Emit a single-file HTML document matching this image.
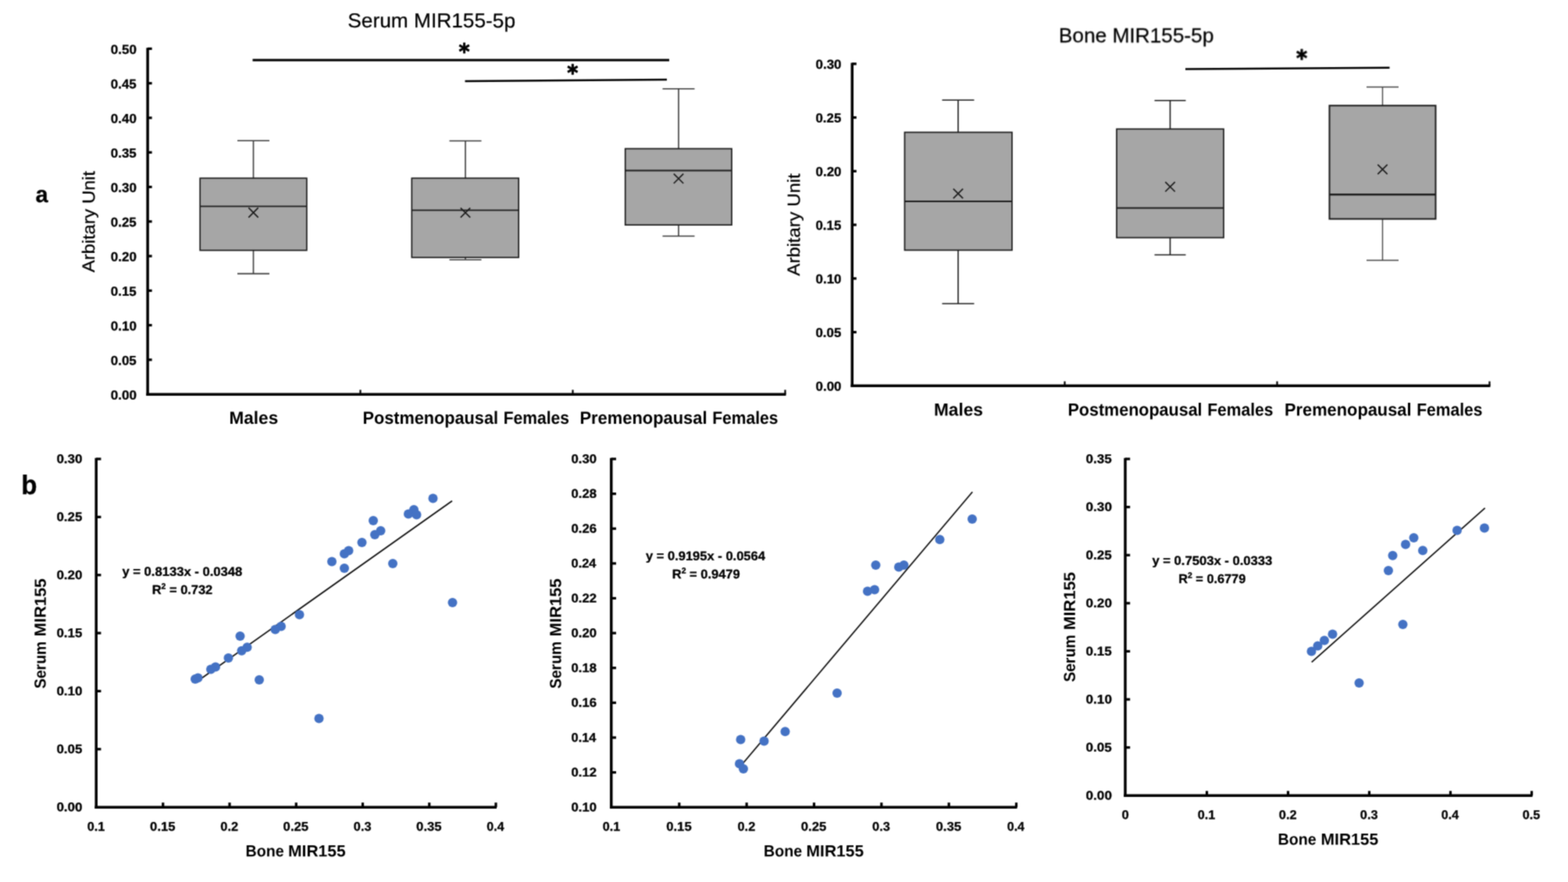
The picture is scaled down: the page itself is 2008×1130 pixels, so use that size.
<!DOCTYPE html>
<html lang="en">
<head>
<meta charset="utf-8">
<title>Serum and Bone MIR155-5p</title>
<style>
html,body{margin:0;padding:0;background:#fff;}
body{width:2008px;height:1130px;overflow:hidden;}
svg{display:block;}
svg text{font-family:"Liberation Sans",sans-serif;font-kerning:none;white-space:pre;}
</style>
</head>
<body>
<svg width="2008" height="1130" viewBox="0 0 2008 1130">
<defs><filter id="soft" x="0" y="0" width="2008" height="1130" filterUnits="userSpaceOnUse" color-interpolation-filters="sRGB"><feConvolveMatrix order="3" kernelMatrix="0.0400 0.1200 0.0400 0.1200 0.3600 0.1200 0.0400 0.1200 0.0400" divisor="1" bias="0" edgeMode="duplicate" preserveAlpha="false"/></filter></defs>
<rect width="2008" height="1130" fill="#fff"/>
<g filter="url(#soft)">
<g id="chart-serum-box">
<line x1="189.1" y1="61.2" x2="189.1" y2="506.95" stroke="#000" stroke-width="3.5"/>
<line x1="187.35" y1="505.2" x2="1006.5" y2="505.2" stroke="#000" stroke-width="3.5"/>
<line x1="189.1" y1="62.4" x2="194.6" y2="62.4" stroke="#000" stroke-width="3.2"/>
<line x1="189.1" y1="106.68" x2="194.6" y2="106.68" stroke="#000" stroke-width="3.2"/>
<line x1="189.1" y1="150.96" x2="194.6" y2="150.96" stroke="#000" stroke-width="3.2"/>
<line x1="189.1" y1="195.24" x2="194.6" y2="195.24" stroke="#000" stroke-width="3.2"/>
<line x1="189.1" y1="239.52" x2="194.6" y2="239.52" stroke="#000" stroke-width="3.2"/>
<line x1="189.1" y1="283.8" x2="194.6" y2="283.8" stroke="#000" stroke-width="3.2"/>
<line x1="189.1" y1="328.08" x2="194.6" y2="328.08" stroke="#000" stroke-width="3.2"/>
<line x1="189.1" y1="372.36" x2="194.6" y2="372.36" stroke="#000" stroke-width="3.2"/>
<line x1="189.1" y1="416.64" x2="194.6" y2="416.64" stroke="#000" stroke-width="3.2"/>
<line x1="189.1" y1="460.92" x2="194.6" y2="460.92" stroke="#000" stroke-width="3.2"/>
<line x1="461.5" y1="505.2" x2="461.5" y2="499.45" stroke="#000" stroke-width="2.2"/>
<line x1="733.5" y1="505.2" x2="733.5" y2="499.45" stroke="#000" stroke-width="2.2"/>
<line x1="1005.5" y1="505.2" x2="1005.5" y2="499.45" stroke="#000" stroke-width="2.2"/>
<text transform="translate(141.78 68.9) rotate(0.04) scale(1.0268 1.0000)" font-size="16.6" font-weight="bold" fill="#000" stroke="#000" stroke-width="0.3" stroke-linejoin="round">0.50</text>
<text transform="translate(141.78 113.18) rotate(0.04) scale(1.0196 1.0000)" font-size="16.6" font-weight="bold" fill="#000" stroke="#000" stroke-width="0.3" stroke-linejoin="round">0.45</text>
<text transform="translate(141.78 157.46) rotate(0.04) scale(1.0268 1.0000)" font-size="16.6" font-weight="bold" fill="#000" stroke="#000" stroke-width="0.3" stroke-linejoin="round">0.40</text>
<text transform="translate(141.78 201.74) rotate(0.04) scale(1.0196 1.0000)" font-size="16.6" font-weight="bold" fill="#000" stroke="#000" stroke-width="0.3" stroke-linejoin="round">0.35</text>
<text transform="translate(141.78 246.02) rotate(0.04) scale(1.0268 1.0000)" font-size="16.6" font-weight="bold" fill="#000" stroke="#000" stroke-width="0.3" stroke-linejoin="round">0.30</text>
<text transform="translate(141.78 290.3) rotate(0.04) scale(1.0196 1.0000)" font-size="16.6" font-weight="bold" fill="#000" stroke="#000" stroke-width="0.3" stroke-linejoin="round">0.25</text>
<text transform="translate(141.78 334.58) rotate(0.04) scale(1.0268 1.0000)" font-size="16.6" font-weight="bold" fill="#000" stroke="#000" stroke-width="0.3" stroke-linejoin="round">0.20</text>
<text transform="translate(141.78 378.86) rotate(0.04) scale(1.0196 1.0000)" font-size="16.6" font-weight="bold" fill="#000" stroke="#000" stroke-width="0.3" stroke-linejoin="round">0.15</text>
<text transform="translate(141.78 423.14) rotate(0.04) scale(1.0268 1.0000)" font-size="16.6" font-weight="bold" fill="#000" stroke="#000" stroke-width="0.3" stroke-linejoin="round">0.10</text>
<text transform="translate(141.78 467.42) rotate(0.04) scale(1.0196 1.0000)" font-size="16.6" font-weight="bold" fill="#000" stroke="#000" stroke-width="0.3" stroke-linejoin="round">0.05</text>
<text transform="translate(141.78 511.7) rotate(0.04) scale(1.0268 1.0000)" font-size="16.6" font-weight="bold" fill="#000" stroke="#000" stroke-width="0.3" stroke-linejoin="round">0.00</text>
<text transform="translate(445.23 35) rotate(0.04) scale(1.0193 1.0000)" font-size="25.8" font-weight="normal" fill="#000" stroke="#000" stroke-width="0.25" stroke-linejoin="round">Serum MIR155-5p</text>
<text transform="translate(121.1 349.02) rotate(-89.96) scale(1.0547 1)" font-size="22.4" font-weight="normal" fill="#000" stroke="#000" stroke-width="0.25" stroke-linejoin="round">Arbitary Unit</text>
<line x1="324.5" y1="180.2" x2="324.5" y2="228.3" stroke="#3a3a3a" stroke-width="1.6"/>
<line x1="324.5" y1="320.7" x2="324.5" y2="350.6" stroke="#3a3a3a" stroke-width="1.6"/>
<line x1="304" y1="180.2" x2="345" y2="180.2" stroke="#3a3a3a" stroke-width="1.6"/>
<line x1="304" y1="350.6" x2="345" y2="350.6" stroke="#3a3a3a" stroke-width="1.6"/>
<rect x="256.2" y="228.3" width="136.6" height="92.4" fill="#a6a6a6" stroke="#1c1c1c" stroke-width="1.7"/>
<line x1="256.2" y1="264.3" x2="392.8" y2="264.3" stroke="#1c1c1c" stroke-width="1.8"/>
<path d="M318.3 266.2L330.7 278.6M318.3 278.6L330.7 266.2" stroke="#1c1c1c" stroke-width="1.7" fill="none"/>
<line x1="596" y1="180.5" x2="596" y2="228.3" stroke="#3a3a3a" stroke-width="1.6"/>
<line x1="596" y1="329.8" x2="596" y2="332.8" stroke="#3a3a3a" stroke-width="1.6"/>
<line x1="575.5" y1="180.5" x2="616.5" y2="180.5" stroke="#3a3a3a" stroke-width="1.6"/>
<line x1="575.5" y1="332.8" x2="616.5" y2="332.8" stroke="#3a3a3a" stroke-width="1.6"/>
<rect x="527.3" y="228.3" width="136.9" height="101.5" fill="#a6a6a6" stroke="#1c1c1c" stroke-width="1.7"/>
<line x1="527.3" y1="269.3" x2="664.2" y2="269.3" stroke="#1c1c1c" stroke-width="1.8"/>
<path d="M589.8 266.3L602.2 278.7M589.8 278.7L602.2 266.3" stroke="#1c1c1c" stroke-width="1.7" fill="none"/>
<line x1="869" y1="113.8" x2="869" y2="190.5" stroke="#3a3a3a" stroke-width="1.6"/>
<line x1="869" y1="288.2" x2="869" y2="302.5" stroke="#3a3a3a" stroke-width="1.6"/>
<line x1="848.5" y1="113.8" x2="889.5" y2="113.8" stroke="#3a3a3a" stroke-width="1.6"/>
<line x1="848.5" y1="302.5" x2="889.5" y2="302.5" stroke="#3a3a3a" stroke-width="1.6"/>
<rect x="800.7" y="190.5" width="136.3" height="97.7" fill="#a6a6a6" stroke="#1c1c1c" stroke-width="1.7"/>
<line x1="800.7" y1="218.5" x2="937" y2="218.5" stroke="#1c1c1c" stroke-width="1.8"/>
<path d="M862.8 222.6L875.2 235M862.8 235L875.2 222.6" stroke="#1c1c1c" stroke-width="1.7" fill="none"/>
<line x1="323.5" y1="77" x2="857" y2="77" stroke="#000" stroke-width="2.8"/>
<line x1="595.5" y1="104" x2="854" y2="102" stroke="#000" stroke-width="2.4"/>
<text transform="translate(587.56 75.68) rotate(0.04) scale(0.6730 0.6999)" style="font-family:'DejaVu Sans','Liberation Sans',sans-serif" font-size="40" font-weight="bold" fill="#000" stroke="#000" stroke-width="0.9" stroke-linejoin="round" vector-effect="non-scaling-stroke">*</text>
<text transform="translate(726.26 103.08) rotate(0.04) scale(0.6730 0.6999)" style="font-family:'DejaVu Sans','Liberation Sans',sans-serif" font-size="40" font-weight="bold" fill="#000" stroke="#000" stroke-width="0.9" stroke-linejoin="round" vector-effect="non-scaling-stroke">*</text>
<text transform="translate(293.49 542.9) rotate(0.04) scale(0.9944 1.0000)" font-size="22.7" font-weight="bold" fill="#000">Males</text>
<text transform="translate(464.45 542.9) rotate(0.04) scale(0.9562 1.0000)" font-size="22.7" font-weight="bold" fill="#000">Postmenopausal</text>
<text transform="translate(644.69 542.9) rotate(0.04) scale(0.9275 1.0000)" font-size="22.7" font-weight="bold" fill="#000">Females</text>
<text transform="translate(742.43 542.9) rotate(0.04) scale(0.9655 1.0000)" font-size="22.7" font-weight="bold" fill="#000">Premenopausal</text>
<text transform="translate(912.19 542.9) rotate(0.04) scale(0.9275 1.0000)" font-size="22.7" font-weight="bold" fill="#000">Females</text>
</g>
<g id="chart-bone-box">
<line x1="1091.3" y1="80.6" x2="1091.3" y2="496.05" stroke="#000" stroke-width="3.5"/>
<line x1="1089.55" y1="494.3" x2="1908.5" y2="494.3" stroke="#000" stroke-width="3.5"/>
<line x1="1091.3" y1="81.8" x2="1096.8" y2="81.8" stroke="#000" stroke-width="3.2"/>
<line x1="1091.3" y1="150.55" x2="1096.8" y2="150.55" stroke="#000" stroke-width="3.2"/>
<line x1="1091.3" y1="219.3" x2="1096.8" y2="219.3" stroke="#000" stroke-width="3.2"/>
<line x1="1091.3" y1="288.05" x2="1096.8" y2="288.05" stroke="#000" stroke-width="3.2"/>
<line x1="1091.3" y1="356.8" x2="1096.8" y2="356.8" stroke="#000" stroke-width="3.2"/>
<line x1="1091.3" y1="425.55" x2="1096.8" y2="425.55" stroke="#000" stroke-width="3.2"/>
<line x1="1363.5" y1="494.3" x2="1363.5" y2="488.55" stroke="#000" stroke-width="2.2"/>
<line x1="1635.5" y1="494.3" x2="1635.5" y2="488.55" stroke="#000" stroke-width="2.2"/>
<line x1="1907.5" y1="494.3" x2="1907.5" y2="488.55" stroke="#000" stroke-width="2.2"/>
<text transform="translate(1044.48 88.1) rotate(0.04) scale(1.0235 1.0000)" font-size="16.6" font-weight="bold" fill="#000" stroke="#000" stroke-width="0.3" stroke-linejoin="round">0.30</text>
<text transform="translate(1044.48 156.85) rotate(0.04) scale(1.0164 1.0000)" font-size="16.6" font-weight="bold" fill="#000" stroke="#000" stroke-width="0.3" stroke-linejoin="round">0.25</text>
<text transform="translate(1044.48 225.6) rotate(0.04) scale(1.0235 1.0000)" font-size="16.6" font-weight="bold" fill="#000" stroke="#000" stroke-width="0.3" stroke-linejoin="round">0.20</text>
<text transform="translate(1044.48 294.35) rotate(0.04) scale(1.0164 1.0000)" font-size="16.6" font-weight="bold" fill="#000" stroke="#000" stroke-width="0.3" stroke-linejoin="round">0.15</text>
<text transform="translate(1044.48 363.1) rotate(0.04) scale(1.0235 1.0000)" font-size="16.6" font-weight="bold" fill="#000" stroke="#000" stroke-width="0.3" stroke-linejoin="round">0.10</text>
<text transform="translate(1044.48 431.85) rotate(0.04) scale(1.0164 1.0000)" font-size="16.6" font-weight="bold" fill="#000" stroke="#000" stroke-width="0.3" stroke-linejoin="round">0.05</text>
<text transform="translate(1044.48 500.6) rotate(0.04) scale(1.0235 1.0000)" font-size="16.6" font-weight="bold" fill="#000" stroke="#000" stroke-width="0.3" stroke-linejoin="round">0.00</text>
<text transform="translate(1355.87 54.3) rotate(0.04) scale(1.0262 1.0000)" font-size="25.6" font-weight="normal" fill="#000" stroke="#000" stroke-width="0.25" stroke-linejoin="round">Bone MIR155-5p</text>
<text transform="translate(1024.1 353.52) rotate(-89.96) scale(1.0644 1)" font-size="22.4" font-weight="normal" fill="#000" stroke="#000" stroke-width="0.25" stroke-linejoin="round">Arbitary Unit</text>
<line x1="1227" y1="128.3" x2="1227" y2="169.5" stroke="#1c1c1c" stroke-width="1.6"/>
<line x1="1227" y1="320.5" x2="1227" y2="389" stroke="#1c1c1c" stroke-width="1.6"/>
<line x1="1206.5" y1="128.3" x2="1247.5" y2="128.3" stroke="#1c1c1c" stroke-width="1.6"/>
<line x1="1206.5" y1="389" x2="1247.5" y2="389" stroke="#1c1c1c" stroke-width="1.6"/>
<rect x="1158.5" y="169.5" width="137.5" height="151" fill="#a6a6a6" stroke="#1c1c1c" stroke-width="1.7"/>
<line x1="1158.5" y1="258" x2="1296" y2="258" stroke="#1c1c1c" stroke-width="1.8"/>
<path d="M1220.8 241.8L1233.2 254.2M1220.8 254.2L1233.2 241.8" stroke="#1c1c1c" stroke-width="1.7" fill="none"/>
<line x1="1498.5" y1="128.8" x2="1498.5" y2="165.3" stroke="#1c1c1c" stroke-width="1.6"/>
<line x1="1498.5" y1="304.5" x2="1498.5" y2="326.5" stroke="#1c1c1c" stroke-width="1.6"/>
<line x1="1478.5" y1="128.8" x2="1518.5" y2="128.8" stroke="#1c1c1c" stroke-width="1.6"/>
<line x1="1478.5" y1="326.5" x2="1518.5" y2="326.5" stroke="#1c1c1c" stroke-width="1.6"/>
<rect x="1430" y="165.3" width="137" height="139.2" fill="#a6a6a6" stroke="#1c1c1c" stroke-width="1.7"/>
<line x1="1430" y1="266.5" x2="1567" y2="266.5" stroke="#1c1c1c" stroke-width="1.8"/>
<path d="M1492.3 233.1L1504.7 245.5M1492.3 245.5L1504.7 233.1" stroke="#1c1c1c" stroke-width="1.7" fill="none"/>
<line x1="1770.5" y1="111.5" x2="1770.5" y2="135.3" stroke="#444" stroke-width="1.4"/>
<line x1="1770.5" y1="280.5" x2="1770.5" y2="333.5" stroke="#444" stroke-width="1.4"/>
<line x1="1750" y1="111.5" x2="1791" y2="111.5" stroke="#444" stroke-width="1.4"/>
<line x1="1750" y1="333.5" x2="1791" y2="333.5" stroke="#444" stroke-width="1.4"/>
<rect x="1702.5" y="135.3" width="136" height="145.2" fill="#a6a6a6" stroke="#1c1c1c" stroke-width="2"/>
<line x1="1702.5" y1="249.3" x2="1838.5" y2="249.3" stroke="#1c1c1c" stroke-width="2.4"/>
<path d="M1764.3 210.8L1776.7 223.2M1764.3 223.2L1776.7 210.8" stroke="#1c1c1c" stroke-width="1.7" fill="none"/>
<line x1="1518" y1="88.5" x2="1779.5" y2="86.8" stroke="#000" stroke-width="2.4"/>
<text transform="translate(1659.96 83.78) rotate(0.04) scale(0.6730 0.6999)" style="font-family:'DejaVu Sans','Liberation Sans',sans-serif" font-size="40" font-weight="bold" fill="#000" stroke="#000" stroke-width="0.9" stroke-linejoin="round" vector-effect="non-scaling-stroke">*</text>
<text transform="translate(1195.99 532.4) rotate(0.04) scale(0.9977 1.0000)" font-size="22.7" font-weight="bold" fill="#000">Males</text>
<text transform="translate(1367.46 532.4) rotate(0.04) scale(0.9478 1.0000)" font-size="22.7" font-weight="bold" fill="#000">Postmenopausal</text>
<text transform="translate(1546.19 532.4) rotate(0.04) scale(0.9275 1.0000)" font-size="22.7" font-weight="bold" fill="#000">Females</text>
<text transform="translate(1644.94 532.4) rotate(0.04) scale(0.9625 1.0000)" font-size="22.7" font-weight="bold" fill="#000">Premenopausal</text>
<text transform="translate(1814.19 532.4) rotate(0.04) scale(0.9275 1.0000)" font-size="22.7" font-weight="bold" fill="#000">Females</text>
</g>
<text transform="translate(45.6 258.96) rotate(0.04) scale(0.7221 0.7347)" font-size="40" font-weight="bold" fill="#000" stroke="#000" stroke-width="0.3" stroke-linejoin="round" vector-effect="non-scaling-stroke">a</text>
<text transform="translate(27.17 632.91) rotate(0.04) scale(0.8285 0.8613)" font-size="40" font-weight="bold" fill="#000" stroke="#000" stroke-width="0.3" stroke-linejoin="round" vector-effect="non-scaling-stroke">b</text>
<g id="chart-scatter-all">
<line x1="123.2" y1="586.8" x2="123.2" y2="1035.95" stroke="#000" stroke-width="3.5"/>
<line x1="121.45" y1="1034.2" x2="636" y2="1034.2" stroke="#000" stroke-width="3.5"/>
<line x1="123.2" y1="588" x2="129.4" y2="588" stroke="#000" stroke-width="3.2"/>
<line x1="123.2" y1="662.36" x2="129.4" y2="662.36" stroke="#000" stroke-width="3.2"/>
<line x1="123.2" y1="736.72" x2="129.4" y2="736.72" stroke="#000" stroke-width="3.2"/>
<line x1="123.2" y1="811.08" x2="129.4" y2="811.08" stroke="#000" stroke-width="3.2"/>
<line x1="123.2" y1="885.44" x2="129.4" y2="885.44" stroke="#000" stroke-width="3.2"/>
<line x1="123.2" y1="959.8" x2="129.4" y2="959.8" stroke="#000" stroke-width="3.2"/>
<line x1="208.75" y1="1034.2" x2="208.75" y2="1028.25" stroke="#000" stroke-width="3.2"/>
<line x1="294" y1="1034.2" x2="294" y2="1028.25" stroke="#000" stroke-width="3.2"/>
<line x1="379.25" y1="1034.2" x2="379.25" y2="1028.25" stroke="#000" stroke-width="3.2"/>
<line x1="464.5" y1="1034.2" x2="464.5" y2="1028.25" stroke="#000" stroke-width="3.2"/>
<line x1="549.75" y1="1034.2" x2="549.75" y2="1028.25" stroke="#000" stroke-width="3.2"/>
<line x1="635" y1="1034.2" x2="635" y2="1028.25" stroke="#000" stroke-width="3.2"/>
<text transform="translate(72.38 593.2) rotate(0.04) scale(1.0653 1.0000)" font-size="16" font-weight="bold" fill="#000" stroke="#000" stroke-width="0.3" stroke-linejoin="round">0.30</text>
<text transform="translate(72.38 667.56) rotate(0.04) scale(1.0578 1.0000)" font-size="16" font-weight="bold" fill="#000" stroke="#000" stroke-width="0.3" stroke-linejoin="round">0.25</text>
<text transform="translate(72.38 741.92) rotate(0.04) scale(1.0653 1.0000)" font-size="16" font-weight="bold" fill="#000" stroke="#000" stroke-width="0.3" stroke-linejoin="round">0.20</text>
<text transform="translate(72.38 816.28) rotate(0.04) scale(1.0578 1.0000)" font-size="16" font-weight="bold" fill="#000" stroke="#000" stroke-width="0.3" stroke-linejoin="round">0.15</text>
<text transform="translate(72.38 890.64) rotate(0.04) scale(1.0653 1.0000)" font-size="16" font-weight="bold" fill="#000" stroke="#000" stroke-width="0.3" stroke-linejoin="round">0.10</text>
<text transform="translate(72.38 965) rotate(0.04) scale(1.0578 1.0000)" font-size="16" font-weight="bold" fill="#000" stroke="#000" stroke-width="0.3" stroke-linejoin="round">0.05</text>
<text transform="translate(72.38 1039.36) rotate(0.04) scale(1.0653 1.0000)" font-size="16" font-weight="bold" fill="#000" stroke="#000" stroke-width="0.3" stroke-linejoin="round">0.00</text>
<text transform="translate(111.81 1064.2) rotate(0.04) scale(1.0159 1.0000)" font-size="16" font-weight="bold" fill="#000" stroke="#000" stroke-width="0.3" stroke-linejoin="round">0.1</text>
<text transform="translate(192.09 1064.2) rotate(0.04) scale(1.0445 1.0000)" font-size="16" font-weight="bold" fill="#000" stroke="#000" stroke-width="0.3" stroke-linejoin="round">0.15</text>
<text transform="translate(282.3 1064.2) rotate(0.04) scale(1.0253 1.0000)" font-size="16" font-weight="bold" fill="#000" stroke="#000" stroke-width="0.3" stroke-linejoin="round">0.2</text>
<text transform="translate(362.59 1064.2) rotate(0.04) scale(1.0445 1.0000)" font-size="16" font-weight="bold" fill="#000" stroke="#000" stroke-width="0.3" stroke-linejoin="round">0.25</text>
<text transform="translate(452.8 1064.2) rotate(0.04) scale(1.0223 1.0000)" font-size="16" font-weight="bold" fill="#000" stroke="#000" stroke-width="0.3" stroke-linejoin="round">0.3</text>
<text transform="translate(533.09 1064.2) rotate(0.04) scale(1.0445 1.0000)" font-size="16" font-weight="bold" fill="#000" stroke="#000" stroke-width="0.3" stroke-linejoin="round">0.35</text>
<text transform="translate(623.32 1064.2) rotate(0.04) scale(0.9989 1.0000)" font-size="16" font-weight="bold" fill="#000" stroke="#000" stroke-width="0.3" stroke-linejoin="round">0.4</text>
<text transform="translate(314.58 1097.2) rotate(0.04) scale(0.9551 1.0000)" font-size="20.6" font-weight="bold" fill="#000">Bone</text>
<text transform="translate(369.09 1097.2) rotate(0.04) scale(1.0203 1.0000)" font-size="20.6" font-weight="bold" fill="#000">MIR155</text>
<text transform="translate(58.6 882.16) rotate(-89.96) scale(0.9447 1)" font-size="20.6" font-weight="bold" fill="#000">Serum</text>
<text transform="translate(58.6 815.42) rotate(-89.96) scale(1.0317 1)" font-size="20.6" font-weight="bold" fill="#000">MIR155</text>
<line x1="251.4" y1="873.8" x2="579" y2="641.7" stroke="#0a0a0a" stroke-width="1.7"/>
<circle cx="554.5" cy="638.5" r="6" fill="#4472c4"/>
<circle cx="530" cy="653" r="6" fill="#4472c4"/>
<circle cx="523" cy="658.5" r="6" fill="#4472c4"/>
<circle cx="533.5" cy="659.5" r="6" fill="#4472c4"/>
<circle cx="478" cy="667" r="6" fill="#4472c4"/>
<circle cx="487.5" cy="680" r="6" fill="#4472c4"/>
<circle cx="480" cy="685" r="6" fill="#4472c4"/>
<circle cx="463.5" cy="695" r="6" fill="#4472c4"/>
<circle cx="446.5" cy="705.6" r="6" fill="#4472c4"/>
<circle cx="441" cy="709.5" r="6" fill="#4472c4"/>
<circle cx="425" cy="719.5" r="6" fill="#4472c4"/>
<circle cx="441" cy="728" r="6" fill="#4472c4"/>
<circle cx="503" cy="722" r="6" fill="#4472c4"/>
<circle cx="579.5" cy="772" r="6" fill="#4472c4"/>
<circle cx="383.5" cy="787.5" r="6" fill="#4472c4"/>
<circle cx="360" cy="802.5" r="6" fill="#4472c4"/>
<circle cx="352.5" cy="806.5" r="6" fill="#4472c4"/>
<circle cx="307.5" cy="815" r="6" fill="#4472c4"/>
<circle cx="316.5" cy="829.3" r="6" fill="#4472c4"/>
<circle cx="309.5" cy="833.8" r="6" fill="#4472c4"/>
<circle cx="292.5" cy="843" r="6" fill="#4472c4"/>
<circle cx="276" cy="854.5" r="6" fill="#4472c4"/>
<circle cx="270" cy="857.5" r="6" fill="#4472c4"/>
<circle cx="253.5" cy="868.5" r="6" fill="#4472c4"/>
<circle cx="250" cy="870" r="6" fill="#4472c4"/>
<circle cx="332" cy="871" r="6" fill="#4472c4"/>
<circle cx="408.5" cy="920.5" r="6" fill="#4472c4"/>
<text transform="translate(156.42 737.6) rotate(0.04) scale(1.0271 1.0000)" font-size="16.2" font-weight="bold" fill="#000" stroke="#000" stroke-width="0.3" stroke-linejoin="round">y = 0.8133x - 0.0348</text>
<text transform="translate(194.75 761) rotate(0.04) scale(1.0143 1)" font-size="16.2" font-weight="bold" fill="#000" stroke="#000" stroke-width="0.3" stroke-linejoin="round">R<tspan font-size="10.37" dy="-6.48">2</tspan><tspan dy="6.48"> = 0.732</tspan></text>
</g>
<g id="chart-scatter-post">
<line x1="782.8" y1="586.8" x2="782.8" y2="1035.95" stroke="#000" stroke-width="3.5"/>
<line x1="781.05" y1="1034.2" x2="1302.5" y2="1034.2" stroke="#000" stroke-width="3.5"/>
<line x1="782.8" y1="588" x2="789" y2="588" stroke="#000" stroke-width="3.2"/>
<line x1="782.8" y1="632.62" x2="789" y2="632.62" stroke="#000" stroke-width="3.2"/>
<line x1="782.8" y1="677.24" x2="789" y2="677.24" stroke="#000" stroke-width="3.2"/>
<line x1="782.8" y1="721.86" x2="789" y2="721.86" stroke="#000" stroke-width="3.2"/>
<line x1="782.8" y1="766.48" x2="789" y2="766.48" stroke="#000" stroke-width="3.2"/>
<line x1="782.8" y1="811.1" x2="789" y2="811.1" stroke="#000" stroke-width="3.2"/>
<line x1="782.8" y1="855.72" x2="789" y2="855.72" stroke="#000" stroke-width="3.2"/>
<line x1="782.8" y1="900.34" x2="789" y2="900.34" stroke="#000" stroke-width="3.2"/>
<line x1="782.8" y1="944.96" x2="789" y2="944.96" stroke="#000" stroke-width="3.2"/>
<line x1="782.8" y1="989.58" x2="789" y2="989.58" stroke="#000" stroke-width="3.2"/>
<line x1="869.83" y1="1034.2" x2="869.83" y2="1028.25" stroke="#000" stroke-width="3.2"/>
<line x1="956.16" y1="1034.2" x2="956.16" y2="1028.25" stroke="#000" stroke-width="3.2"/>
<line x1="1042.49" y1="1034.2" x2="1042.49" y2="1028.25" stroke="#000" stroke-width="3.2"/>
<line x1="1128.82" y1="1034.2" x2="1128.82" y2="1028.25" stroke="#000" stroke-width="3.2"/>
<line x1="1215.15" y1="1034.2" x2="1215.15" y2="1028.25" stroke="#000" stroke-width="3.2"/>
<line x1="1301.48" y1="1034.2" x2="1301.48" y2="1028.25" stroke="#000" stroke-width="3.2"/>
<text transform="translate(731.49 593.2) rotate(0.04) scale(1.0485 1.0000)" font-size="16" font-weight="bold" fill="#000" stroke="#000" stroke-width="0.3" stroke-linejoin="round">0.30</text>
<text transform="translate(731.49 637.82) rotate(0.04) scale(1.0428 1.0000)" font-size="16" font-weight="bold" fill="#000" stroke="#000" stroke-width="0.3" stroke-linejoin="round">0.28</text>
<text transform="translate(731.49 682.44) rotate(0.04) scale(1.0458 1.0000)" font-size="16" font-weight="bold" fill="#000" stroke="#000" stroke-width="0.3" stroke-linejoin="round">0.26</text>
<text transform="translate(731.5 727.06) rotate(0.04) scale(1.0289 1.0000)" font-size="16" font-weight="bold" fill="#000" stroke="#000" stroke-width="0.3" stroke-linejoin="round">0.24</text>
<text transform="translate(731.49 771.68) rotate(0.04) scale(1.0480 1.0000)" font-size="16" font-weight="bold" fill="#000" stroke="#000" stroke-width="0.3" stroke-linejoin="round">0.22</text>
<text transform="translate(731.49 816.3) rotate(0.04) scale(1.0485 1.0000)" font-size="16" font-weight="bold" fill="#000" stroke="#000" stroke-width="0.3" stroke-linejoin="round">0.20</text>
<text transform="translate(731.49 860.92) rotate(0.04) scale(1.0428 1.0000)" font-size="16" font-weight="bold" fill="#000" stroke="#000" stroke-width="0.3" stroke-linejoin="round">0.18</text>
<text transform="translate(731.49 905.54) rotate(0.04) scale(1.0458 1.0000)" font-size="16" font-weight="bold" fill="#000" stroke="#000" stroke-width="0.3" stroke-linejoin="round">0.16</text>
<text transform="translate(731.5 950.16) rotate(0.04) scale(1.0289 1.0000)" font-size="16" font-weight="bold" fill="#000" stroke="#000" stroke-width="0.3" stroke-linejoin="round">0.14</text>
<text transform="translate(731.49 994.78) rotate(0.04) scale(1.0480 1.0000)" font-size="16" font-weight="bold" fill="#000" stroke="#000" stroke-width="0.3" stroke-linejoin="round">0.12</text>
<text transform="translate(731.49 1039.4) rotate(0.04) scale(1.0485 1.0000)" font-size="16" font-weight="bold" fill="#000" stroke="#000" stroke-width="0.3" stroke-linejoin="round">0.10</text>
<text transform="translate(771.81 1064.2) rotate(0.04) scale(1.0159 1.0000)" font-size="16" font-weight="bold" fill="#000" stroke="#000" stroke-width="0.3" stroke-linejoin="round">0.1</text>
<text transform="translate(853.17 1064.2) rotate(0.04) scale(1.0445 1.0000)" font-size="16" font-weight="bold" fill="#000" stroke="#000" stroke-width="0.3" stroke-linejoin="round">0.15</text>
<text transform="translate(944.46 1064.2) rotate(0.04) scale(1.0253 1.0000)" font-size="16" font-weight="bold" fill="#000" stroke="#000" stroke-width="0.3" stroke-linejoin="round">0.2</text>
<text transform="translate(1025.83 1064.2) rotate(0.04) scale(1.0445 1.0000)" font-size="16" font-weight="bold" fill="#000" stroke="#000" stroke-width="0.3" stroke-linejoin="round">0.25</text>
<text transform="translate(1117.12 1064.2) rotate(0.04) scale(1.0223 1.0000)" font-size="16" font-weight="bold" fill="#000" stroke="#000" stroke-width="0.3" stroke-linejoin="round">0.3</text>
<text transform="translate(1198.49 1064.2) rotate(0.04) scale(1.0445 1.0000)" font-size="16" font-weight="bold" fill="#000" stroke="#000" stroke-width="0.3" stroke-linejoin="round">0.35</text>
<text transform="translate(1289.8 1064.2) rotate(0.04) scale(0.9989 1.0000)" font-size="16" font-weight="bold" fill="#000" stroke="#000" stroke-width="0.3" stroke-linejoin="round">0.4</text>
<text transform="translate(978.08 1097.2) rotate(0.04) scale(0.9551 1.0000)" font-size="20.6" font-weight="bold" fill="#000">Bone</text>
<text transform="translate(1032.59 1097.2) rotate(0.04) scale(1.0203 1.0000)" font-size="20.6" font-weight="bold" fill="#000">MIR155</text>
<text transform="translate(718.5 882.16) rotate(-89.96) scale(0.9447 1)" font-size="20.6" font-weight="bold" fill="#000">Serum</text>
<text transform="translate(718.5 815.42) rotate(-89.96) scale(1.0317 1)" font-size="20.6" font-weight="bold" fill="#000">MIR155</text>
<line x1="947.8" y1="982.3" x2="1245.3" y2="630.2" stroke="#0a0a0a" stroke-width="1.7"/>
<circle cx="1245" cy="665" r="6" fill="#4472c4"/>
<circle cx="1203.5" cy="691.3" r="6" fill="#4472c4"/>
<circle cx="1121.5" cy="724" r="6" fill="#4472c4"/>
<circle cx="1157.5" cy="724" r="6" fill="#4472c4"/>
<circle cx="1151" cy="726.5" r="6" fill="#4472c4"/>
<circle cx="1120" cy="755.5" r="6" fill="#4472c4"/>
<circle cx="1111" cy="757.5" r="6" fill="#4472c4"/>
<circle cx="1072" cy="888" r="6" fill="#4472c4"/>
<circle cx="1005.5" cy="937.3" r="6" fill="#4472c4"/>
<circle cx="948.5" cy="947.5" r="6" fill="#4472c4"/>
<circle cx="978.5" cy="949.5" r="6" fill="#4472c4"/>
<circle cx="947" cy="978.5" r="6" fill="#4472c4"/>
<circle cx="952" cy="985" r="6" fill="#4472c4"/>
<text transform="translate(826.92 717.6) rotate(0.04) scale(1.0209 1.0000)" font-size="16.2" font-weight="bold" fill="#000" stroke="#000" stroke-width="0.3" stroke-linejoin="round">y = 0.9195x - 0.0564</text>
<text transform="translate(860.75 741) rotate(0.04) scale(1.0180 1)" font-size="16.2" font-weight="bold" fill="#000" stroke="#000" stroke-width="0.3" stroke-linejoin="round">R<tspan font-size="10.37" dy="-6.48">2</tspan><tspan dy="6.48"> = 0.9479</tspan></text>
</g>
<g id="chart-scatter-pre">
<line x1="1441" y1="586.8" x2="1441" y2="1021.05" stroke="#000" stroke-width="3.5"/>
<line x1="1439.25" y1="1019.3" x2="1962.5" y2="1019.3" stroke="#000" stroke-width="3.5"/>
<line x1="1441" y1="588" x2="1447.2" y2="588" stroke="#000" stroke-width="3.2"/>
<line x1="1441" y1="649.61" x2="1447.2" y2="649.61" stroke="#000" stroke-width="3.2"/>
<line x1="1441" y1="711.22" x2="1447.2" y2="711.22" stroke="#000" stroke-width="3.2"/>
<line x1="1441" y1="772.83" x2="1447.2" y2="772.83" stroke="#000" stroke-width="3.2"/>
<line x1="1441" y1="834.44" x2="1447.2" y2="834.44" stroke="#000" stroke-width="3.2"/>
<line x1="1441" y1="896.05" x2="1447.2" y2="896.05" stroke="#000" stroke-width="3.2"/>
<line x1="1441" y1="957.66" x2="1447.2" y2="957.66" stroke="#000" stroke-width="3.2"/>
<line x1="1545.5" y1="1019.3" x2="1545.5" y2="1013.35" stroke="#000" stroke-width="3.2"/>
<line x1="1649.5" y1="1019.3" x2="1649.5" y2="1013.35" stroke="#000" stroke-width="3.2"/>
<line x1="1753.5" y1="1019.3" x2="1753.5" y2="1013.35" stroke="#000" stroke-width="3.2"/>
<line x1="1857.5" y1="1019.3" x2="1857.5" y2="1013.35" stroke="#000" stroke-width="3.2"/>
<line x1="1961.5" y1="1019.3" x2="1961.5" y2="1013.35" stroke="#000" stroke-width="3.2"/>
<text transform="translate(1390.58 593.2) rotate(0.04) scale(1.0644 1.0000)" font-size="16" font-weight="bold" fill="#000" stroke="#000" stroke-width="0.3" stroke-linejoin="round">0.35</text>
<text transform="translate(1390.57 654.81) rotate(0.04) scale(1.0720 1.0000)" font-size="16" font-weight="bold" fill="#000" stroke="#000" stroke-width="0.3" stroke-linejoin="round">0.30</text>
<text transform="translate(1390.58 716.42) rotate(0.04) scale(1.0644 1.0000)" font-size="16" font-weight="bold" fill="#000" stroke="#000" stroke-width="0.3" stroke-linejoin="round">0.25</text>
<text transform="translate(1390.57 778.03) rotate(0.04) scale(1.0720 1.0000)" font-size="16" font-weight="bold" fill="#000" stroke="#000" stroke-width="0.3" stroke-linejoin="round">0.20</text>
<text transform="translate(1390.58 839.64) rotate(0.04) scale(1.0644 1.0000)" font-size="16" font-weight="bold" fill="#000" stroke="#000" stroke-width="0.3" stroke-linejoin="round">0.15</text>
<text transform="translate(1390.57 901.25) rotate(0.04) scale(1.0720 1.0000)" font-size="16" font-weight="bold" fill="#000" stroke="#000" stroke-width="0.3" stroke-linejoin="round">0.10</text>
<text transform="translate(1390.58 962.86) rotate(0.04) scale(1.0644 1.0000)" font-size="16" font-weight="bold" fill="#000" stroke="#000" stroke-width="0.3" stroke-linejoin="round">0.05</text>
<text transform="translate(1390.57 1024.47) rotate(0.04) scale(1.0720 1.0000)" font-size="16" font-weight="bold" fill="#000" stroke="#000" stroke-width="0.3" stroke-linejoin="round">0.00</text>
<text transform="translate(1436.59 1049.3) rotate(0.04) scale(1.0382 1.0000)" font-size="16" font-weight="bold" fill="#000" stroke="#000" stroke-width="0.3" stroke-linejoin="round">0</text>
<text transform="translate(1533.81 1049.3) rotate(0.04) scale(1.0159 1.0000)" font-size="16" font-weight="bold" fill="#000" stroke="#000" stroke-width="0.3" stroke-linejoin="round">0.1</text>
<text transform="translate(1637.8 1049.3) rotate(0.04) scale(1.0253 1.0000)" font-size="16" font-weight="bold" fill="#000" stroke="#000" stroke-width="0.3" stroke-linejoin="round">0.2</text>
<text transform="translate(1741.8 1049.3) rotate(0.04) scale(1.0223 1.0000)" font-size="16" font-weight="bold" fill="#000" stroke="#000" stroke-width="0.3" stroke-linejoin="round">0.3</text>
<text transform="translate(1845.82 1049.3) rotate(0.04) scale(0.9989 1.0000)" font-size="16" font-weight="bold" fill="#000" stroke="#000" stroke-width="0.3" stroke-linejoin="round">0.4</text>
<text transform="translate(1949.81 1049.3) rotate(0.04) scale(1.0159 1.0000)" font-size="16" font-weight="bold" fill="#000" stroke="#000" stroke-width="0.3" stroke-linejoin="round">0.5</text>
<text transform="translate(1636.58 1082.2) rotate(0.04) scale(0.9551 1.0000)" font-size="20.6" font-weight="bold" fill="#000">Bone</text>
<text transform="translate(1691.59 1082.2) rotate(0.04) scale(1.0203 1.0000)" font-size="20.6" font-weight="bold" fill="#000">MIR155</text>
<text transform="translate(1376.8 873.66) rotate(-89.96) scale(0.9447 1)" font-size="20.6" font-weight="bold" fill="#000">Serum</text>
<text transform="translate(1376.8 807.22) rotate(-89.96) scale(1.0317 1)" font-size="20.6" font-weight="bold" fill="#000">MIR155</text>
<line x1="1679.7" y1="848.4" x2="1901.7" y2="650.8" stroke="#0a0a0a" stroke-width="1.7"/>
<circle cx="1901" cy="676.5" r="6" fill="#4472c4"/>
<circle cx="1866" cy="679.5" r="6" fill="#4472c4"/>
<circle cx="1810.5" cy="689" r="6" fill="#4472c4"/>
<circle cx="1800" cy="697.5" r="6" fill="#4472c4"/>
<circle cx="1822" cy="705.3" r="6" fill="#4472c4"/>
<circle cx="1783.5" cy="711.8" r="6" fill="#4472c4"/>
<circle cx="1778" cy="731" r="6" fill="#4472c4"/>
<circle cx="1796.5" cy="800" r="6" fill="#4472c4"/>
<circle cx="1706.5" cy="812.5" r="6" fill="#4472c4"/>
<circle cx="1696" cy="820.5" r="6" fill="#4472c4"/>
<circle cx="1687.5" cy="827.5" r="6" fill="#4472c4"/>
<circle cx="1679.5" cy="834.5" r="6" fill="#4472c4"/>
<circle cx="1740.5" cy="875" r="6" fill="#4472c4"/>
<text transform="translate(1475.42 723.6) rotate(0.04) scale(1.0277 1.0000)" font-size="16.2" font-weight="bold" fill="#000" stroke="#000" stroke-width="0.3" stroke-linejoin="round">y = 0.7503x - 0.0333</text>
<text transform="translate(1509.26 747) rotate(0.04) scale(1.0061 1)" font-size="16.2" font-weight="bold" fill="#000" stroke="#000" stroke-width="0.3" stroke-linejoin="round">R<tspan font-size="10.37" dy="-6.48">2</tspan><tspan dy="6.48"> = 0.6779</tspan></text>
</g>
</g>
</svg>
</body>
</html>
